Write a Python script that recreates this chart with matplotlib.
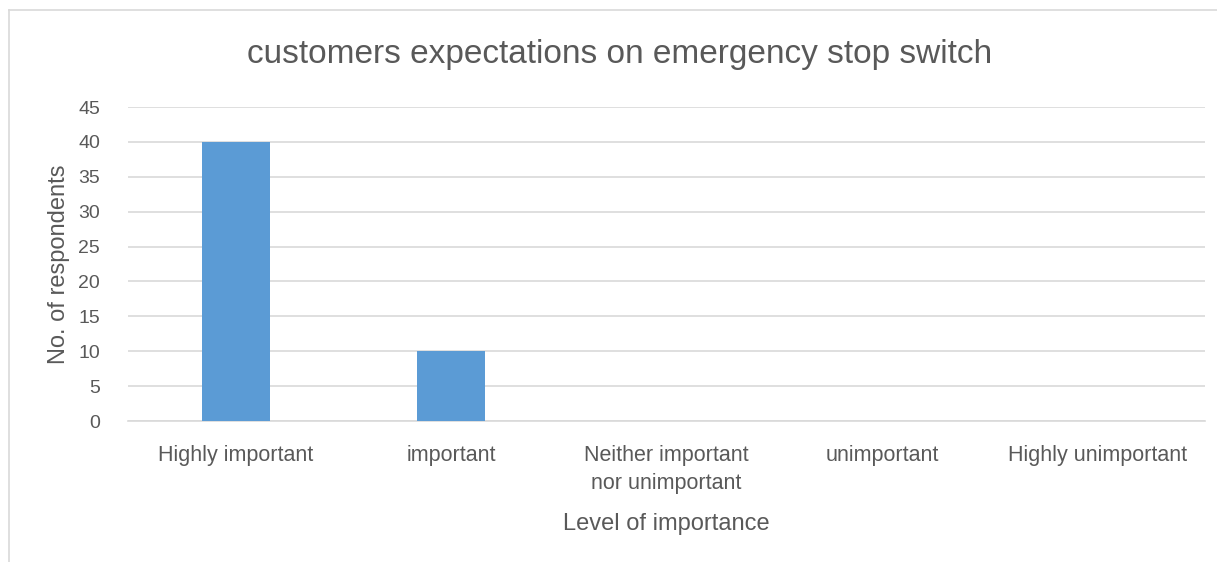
import numpy as np
import matplotlib.pyplot as plt
from matplotlib.lines import Line2D

categories = ["Highly important", "important", "Neither important\nnor unimportant",
              "unimportant", "Highly unimportant"]
respondents = [40, 10, 0, 0, 0]
yticks = [0, 5, 10, 15, 20, 25, 30, 35, 40, 45]

plt.rcParams['font.family'] = ['Liberation Sans', 'DejaVu Sans']
txt = '#595959'

W, H = 1217, 562
fig = plt.figure(figsize=(W / 100, H / 100), dpi=100)
ax = fig.add_axes([128 / W, 1 - 421 / H, (1205 - 128) / W, (421 - 107) / H])

x = np.arange(len(categories))
ax.bar(x, respondents, width=0.315, color='#5b9bd5', zorder=3)

ax.set_xlim(-0.5, len(categories) - 0.5)
ax.set_ylim(0, 45)
ax.set_yticks(yticks)
ax.set_xticks(x)
ax.set_xticklabels(categories, fontsize=15.5, color=txt, linespacing=1.45)
ax.tick_params(axis='y', labelsize=14, labelcolor=txt, length=0, pad=20)
ax.tick_params(axis='x', length=0, pad=17)
ax.grid(axis='y', color='#d9d9d9', linewidth=1.2, zorder=0)
for s in ['top', 'right', 'left']:
    ax.spines[s].set_visible(False)
ax.spines['bottom'].set_color('#d9d9d9')
ax.spines['bottom'].set_linewidth(1.2)

ax.set_ylabel('No. of respondents', fontsize=17, color=txt, labelpad=6)
ax.set_xlabel('Level of importance', fontsize=17, color=txt, labelpad=14)
fig.text(620 / W, 1 - 54 / H, 'customers expectations on emergency stop switch',
         ha='center', va='center', fontsize=24, color=txt)

# chart frame (left and top edges visible in the crop)
fig.add_artist(Line2D([9 / W, 9 / W], [0, 1 - 10 / H], color='#d9d9d9', lw=1.2))
fig.add_artist(Line2D([9 / W, 1], [1 - 10 / H, 1 - 10 / H], color='#d9d9d9', lw=1.2))

fig.savefig('out.png', dpi=100)
